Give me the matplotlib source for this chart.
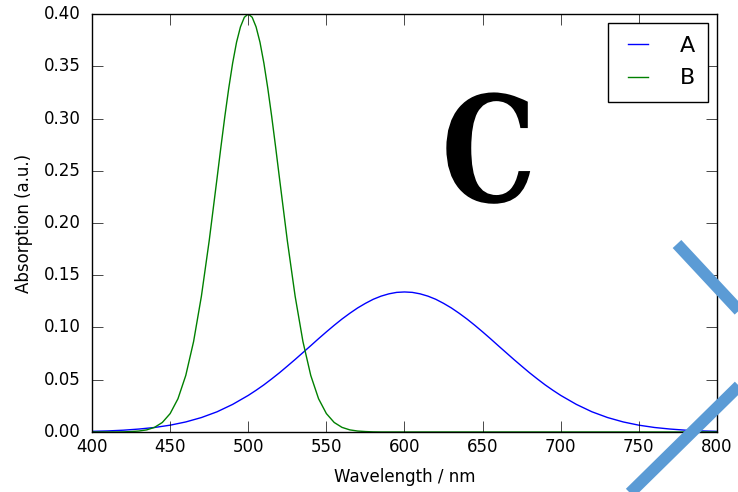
import matplotlib
matplotlib.use('Agg')
import matplotlib.pyplot as plt
import matplotlib.patheffects as pe
from matplotlib.lines import Line2D
from matplotlib.transforms import Affine2D

# Wavelengths (nm) and absorption
wl_a = [400, 410, 420, 430, 440, 450, 460, 470, 480, 490, 500, 505, 510, 515,
        520, 525, 530, 535, 540, 545, 550, 555, 560, 565, 570, 575, 580, 585,
        590, 595, 600, 605, 610, 615, 620, 625, 630, 635, 640, 645, 650, 655,
        660, 665, 670, 675, 680, 685, 690, 695, 700, 710, 720, 730, 740, 750,
        760, 770, 780, 790, 800]
abs_a = [0.0006, 0.0010, 0.0017, 0.0028, 0.0043, 0.0065, 0.0096, 0.0138,
         0.0193, 0.0264, 0.0350, 0.0399, 0.0451, 0.0508, 0.0567, 0.0630,
         0.0694, 0.0760, 0.0826, 0.0893, 0.0958, 0.1021, 0.1081, 0.1136,
         0.1187, 0.1231, 0.1270, 0.1300, 0.1322, 0.1336, 0.1340, 0.1336,
         0.1322, 0.1300, 0.1270, 0.1231, 0.1187, 0.1136, 0.1081, 0.1021,
         0.0958, 0.0893, 0.0826, 0.0760, 0.0694, 0.0630, 0.0567, 0.0508,
         0.0451, 0.0399, 0.0350, 0.0264, 0.0193, 0.0138, 0.0096, 0.0065,
         0.0043, 0.0028, 0.0017, 0.0010, 0.0006]

wl_b = [400, 415, 420, 425, 430, 435, 440, 445, 450, 455, 460, 465, 470, 475,
        480, 482.5, 485, 487.5, 490, 492.5, 495, 497.5, 500, 502.5, 505,
        507.5, 510, 512.5, 515, 517.5, 520, 525, 530, 535, 540, 545,
        550, 555, 560, 565, 570, 575, 580, 585, 800]
abs_b = [0.0, 0.0, 0.0001, 0.0004, 0.0009, 0.0020, 0.0044, 0.0091, 0.0176,
         0.0318, 0.0541, 0.0865, 0.1299, 0.1831, 0.2426, 0.2728, 0.3019,
         0.3289, 0.3530, 0.3730, 0.3877, 0.3969, 0.4000, 0.3969, 0.3877,
         0.3730, 0.3530, 0.3289, 0.3019, 0.2728, 0.2426, 0.1831, 0.1299,
         0.0865, 0.0541, 0.0318, 0.0176, 0.0091, 0.0044, 0.0020, 0.0009,
         0.0004, 0.0001, 0.0, 0.0]

x_ticks = [400, 450, 500, 550, 600, 650, 700, 750, 800]
y_ticks = [0.00, 0.05, 0.10, 0.15, 0.20, 0.25, 0.30, 0.35, 0.40]


class Squeeze(pe.AbstractPathEffect):
    """Narrow the glyphs horizontally about their own centre."""

    def __init__(self, sx):
        super().__init__()
        self.sx = sx

    def draw_path(self, renderer, gc, tpath, affine, rgbFace=None):
        ext = tpath.transformed(affine).get_extents()
        cx = 0.5 * (ext.x0 + ext.x1)
        squeeze = Affine2D().translate(-cx, 0).scale(self.sx, 1).translate(cx, 0)
        renderer.draw_path(gc, tpath, affine + squeeze, rgbFace)


plt.style.use('classic')
plt.rcParams['font.family'] = ['DejaVu Sans']

fig = plt.figure(figsize=(7.38, 4.92), dpi=100, facecolor='white')
ax = fig.add_axes([0.1247, 0.122, 0.8468, 0.8495])

ax.plot(wl_a, abs_a, color='b', linewidth=1.0, label='A')
ax.plot(wl_b, abs_b, color='g', linewidth=1.0, label='B')

ax.set_xlim(400, 800)
ax.set_ylim(0, 0.40)
ax.set_xticks(x_ticks)
ax.set_yticks(y_ticks)
ax.set_yticklabels([f"{v:.2f}" for v in y_ticks])
ax.tick_params(labelsize=12, direction='in', length=8)
ax.tick_params(axis='y', pad=8)

ax.set_xlabel('Wavelength / nm', fontsize=12, labelpad=9)
ax.set_ylabel('Absorption (a.u.)', fontsize=12, labelpad=8)

leg = ax.legend(loc='upper right', fontsize=16, fancybox=False,
                handlelength=1.5, handletextpad=1.1, labelspacing=0.55,
                borderpad=0.6, borderaxespad=0.4)
leg.get_frame().set_edgecolor('black')

# Panel letter
ax.text(0.635, 0.551, 'C', transform=ax.transAxes, ha='center', va='baseline',
        fontsize=106, family='DejaVu Serif', fontweight='bold',
        path_effects=[Squeeze(0.81)])

# Blue cross strokes at the lower right corner
cross_color = '#5b9bd5'
fig.add_artist(Line2D([677 / 738, 745 / 738], [1 - 244 / 492, 1 - 317 / 492],
                      transform=fig.transFigure, color=cross_color,
                      linewidth=8.5, solid_capstyle='butt'))
fig.add_artist(Line2D([628 / 738, 745 / 738], [1 - 495 / 492, 1 - 380 / 492],
                      transform=fig.transFigure, color=cross_color,
                      linewidth=8.5, solid_capstyle='butt'))

fig.savefig('out.png', dpi=100, facecolor='white')
